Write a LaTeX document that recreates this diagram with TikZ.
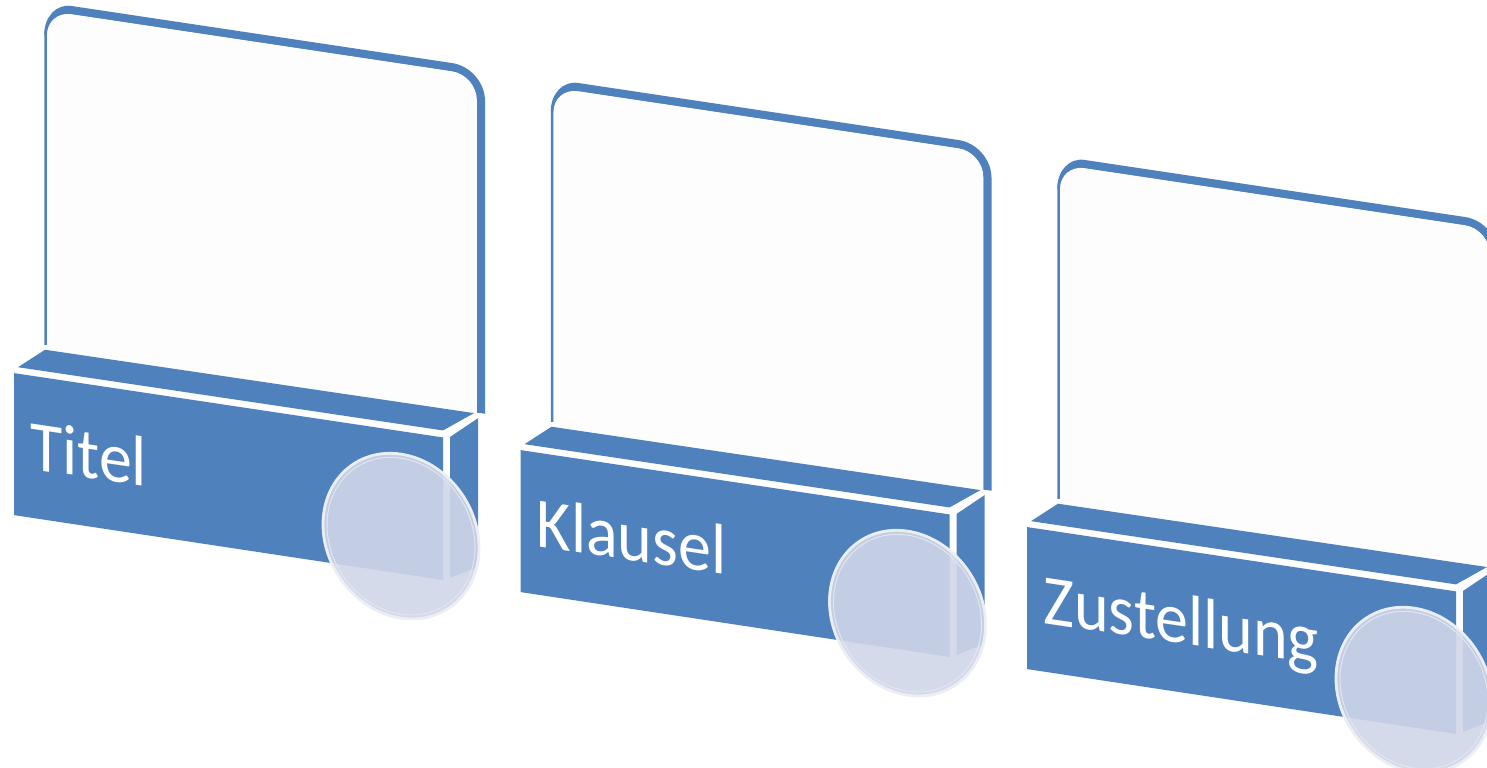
\documentclass[tikz,border=0pt]{standalone}
\usepackage{fontspec}
\setmainfont{Carlito}
\definecolor{tileblue}{HTML}{4F81BD}
\definecolor{plate}{HTML}{FDFDFD}
\definecolor{lens}{HTML}{D0D6E8}
\definecolor{lensrim}{HTML}{EEF0F5}
\definecolor{lensinner}{HTML}{E2E6EF}

\tikzset{
  blockface/.style={fill=tileblue},
  platefill/.style={fill=plate},
  plateline/.style={draw=tileblue, line width=1.25pt},
  labeltext/.style={text=white, font=\fontsize{33}{36}\selectfont,
    inner sep=0pt, anchor=base west, transform shape, yscale=1.08},
  lensdisc/.style={fill=lens, fill opacity=0.9},
  lensedge/.style={draw=lensrim, line width=1.4pt, draw opacity=0.95},
  lensring/.style={draw=lensinner, line width=0.5pt},
}

\begin{document}
\begin{tikzpicture}[x=0.5pt, y=-0.5pt]
\useasboundingbox (0,0) rectangle (1487,767);
% every panel lives in a sheared frame: local (u,v) -> (u, v + 0.15u)
\begin{scope}[yslant=-0.15]
\foreach \i/\lab in {0/Titel, 1/Klausel, 2/Zustellung}{
  \begin{scope}[shift={(506.5*\i, 1*\i)}]
    % back plate: light panel with a thin left rim
    \path[platefill] (45.5,345) -- (45.5,28)
      arc[start angle=180, end angle=270, radius=26] -- (452.25,2)
      arc[start angle=270, end angle=360, radius=26] -- (478.25,345) -- cycle;
    \draw[plateline] (45.5,338) -- (45.5,28)
      arc[start angle=180, end angle=270, radius=26] -- (452.25,2)
      arc[start angle=270, end angle=360, radius=26] -- (478.25,341);
    % thick rim along the top and right edge, tapering into the left corner
    \fill[tileblue] (44.25,28)
      arc[start angle=180, end angle=270, x radius=27.25, y radius=32.75]
      -- (452.25,-4.75)
      arc[start angle=270, end angle=360, radius=32.75]
      -- (485,341) -- (477,341) -- (477,28)
      arc[start angle=360, end angle=270, radius=24.75]
      -- (71.5,3.25)
      arc[start angle=270, end angle=180, radius=24.75]
      -- cycle;
    % base block: top, side and front faces
    \path[blockface] (18,364.5) -- (443,364) -- (474,342) -- (45,343) -- cycle;
    \path[blockface] (450,369.5) -- (478,346.5) -- (478,495) -- (450,510.5) -- cycle;
    \path[blockface] (14,371) -- (443,371) -- (443,513.5) -- (14,513) -- cycle;
    \node[labeltext] (label\i) at (30,464.5) {\lab};
    % translucent lens
    \path[lensdisc] (401,476) ellipse[x radius=79, y radius=83];
    \path[lensedge] (401,476) ellipse[x radius=78, y radius=82];
    \path[lensring] (401,476) ellipse[x radius=74, y radius=78];
  \end{scope}
}
\end{scope}
\end{tikzpicture}
\end{document}
